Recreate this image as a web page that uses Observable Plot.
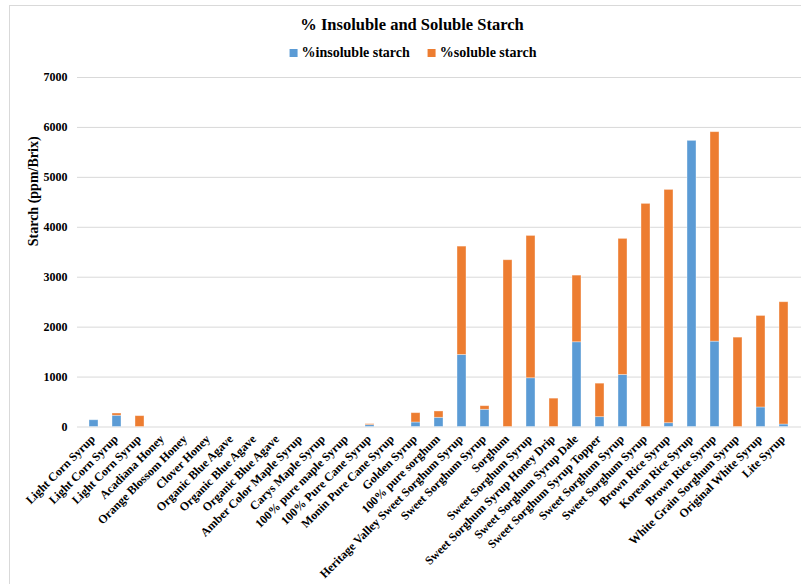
<!DOCTYPE html>
<html>
<head>
<meta charset="utf-8">
<script src="https://cdn.jsdelivr.net/npm/d3@7"></script>
<script src="https://cdn.jsdelivr.net/npm/@observablehq/plot@0.6"></script>
<style>
  html, body { margin: 0; padding: 0; background: #fff; overflow: hidden; }
  body { width: 801px; height: 584px; position: relative; font-family: "Liberation Serif", "Times New Roman", serif; }
  #frame { position: absolute; left: 9px; top: 5px; width: 820px; height: 600px; border-left: 1.5px solid #d9d9d9; border-top: 1.5px solid #d9d9d9; box-sizing: border-box; pointer-events: none; }
  #header { position: relative; height: 65px; width: 801px; }
  #title { position: absolute; left: 412px; top: 25px; transform: translate(-50%, -50%); font-weight: bold; font-size: 16.5px; white-space: nowrap; color: #000; }
  #legend { position: absolute; left: 413px; top: 53px; transform: translate(-50%, -50%); font-weight: bold; font-size: 14px; white-space: nowrap; display: flex; align-items: center; color: #000; }
  .sw { display: inline-block; width: 8px; height: 8px; margin-right: 4px; }
  .item { display: inline-flex; align-items: center; margin: 0 9px; }
  #chart { position: relative; }
</style>
</head>
<body>
<div id="frame"></div>
<div id="header">
  <div id="title">% Insoluble and Soluble Starch</div>
  <div id="legend"></div>
</div>
<div id="chart"></div>
<script>
const labels = [
  "Light Corn Syrup", "Light Corn Syrup", "Light Corn Syrup", "Acadiana Honey",
  "Orange Blossom Honey", "Clover Honey", "Organic Blue Agave", "Organic Blue Agave",
  "Organic Blue Agave", "Amber Color Maple Syrup", "Carys Maple Syrup", "100% pure maple Syrup",
  "100% Pure Cane Syrup", "Monin Pure Cane Syrup", "Golden Syrup", "100% pure sorghum",
  "Heritage Valley Sweet Sorghum Syrup", "Sweet Sorghum Syrup", "Sorghum", "Sweet Sorghum Syrup",
  "Sweet Sorghum Syrup Honey Drip", "Sweet Sorghum Syrup Dale", "Sweet Sorghum Syrup Topper", "Sweet Sorghum Syrup",
  "Sweet Sorghum Syrup", "Brown Rice Syrup", "Korean Rice Syrup", "Brown Rice Syrup",
  "White Grain Sorghum Syrup", "Original White Syrup", "Lite Syrup"
];
const insoluble = [135, 225, 0, 0, 0, 0, 0, 0, 0, 0, 0, 0, 37, 0, 90, 184,
  1443, 345, 0, 976, 0, 1697, 197, 1042, 0, 76, 5731, 1710, 0, 391, 50];
const soluble = [0, 45, 217, 0, 0, 0, 0, 0, 0, 0, 0, 0, 20, 0, 187, 127,
  2170, 72, 3340, 2851, 568, 1335, 671, 2726, 4469, 4673, 0, 4195, 1790, 1833, 2449];
const seriesNames = ["%insoluble starch", "%soluble starch"];
const seriesColors = ["#5B9BD5", "#ED7D31"];
const yTicks = [0, 1000, 2000, 3000, 4000, 5000, 6000, 7000];
const yLabel = "Starch (ppm/Brix)";

const table = [];
labels.forEach((l, i) => {
  table.push({i, series: seriesNames[0], value: insoluble[i]});
  table.push({i, series: seriesNames[1], value: soluble[i]});
});

const legend = document.getElementById("legend");
seriesNames.forEach((s, k) => {
  const it = document.createElement("span");
  it.className = "item";
  const sw = document.createElement("span");
  sw.className = "sw";
  sw.style.background = seriesColors[k];
  it.appendChild(sw);
  it.appendChild(document.createTextNode(s));
  legend.appendChild(it);
});

const fontFamily = '"Liberation Serif", "Times New Roman", serif';
const chart = Plot.plot({
  width: 801,
  height: 519,
  marginTop: 12,
  marginBottom: 157.5,
  marginLeft: 77,
  marginRight: 0,
  style: {fontFamily, fontSize: "12px", fontWeight: "bold", color: "#000", background: "transparent", overflow: "visible"},
  x: {type: "band", domain: d3.range(labels.length), paddingInner: 0.6, paddingOuter: 0.3, label: null},
  y: {domain: [0, 7000], label: null},
  color: {domain: seriesNames, range: seriesColors},
  marks: [
    Plot.ruleY(yTicks, {stroke: "#d9d9d9", strokeWidth: 1}),
    Plot.barY(table, {x: "i", y: "value", fill: "series", stroke: "#ffffff", strokeOpacity: 0.45, strokeWidth: 0.8}),
    Plot.axisX({tickFormat: i => labels[i], tickRotate: -45, tickSize: 0, tickPadding: 4, dx: -1, dy: 6, fontSize: 12, fontWeight: "bold", fill: "#000"}),
    Plot.axisY(yTicks, {tickFormat: d => String(d), tickSize: 0, tickPadding: 10, fontSize: 12, fontWeight: "bold", fill: "#000", label: null}),
    Plot.text([yLabel], {frameAnchor: "left", rotate: -90, dx: -44, dy: -6, fontSize: 14, fontWeight: "bold", fill: "#000"})
  ]
});
document.getElementById("chart").appendChild(chart);
</script>
</body>
</html>
